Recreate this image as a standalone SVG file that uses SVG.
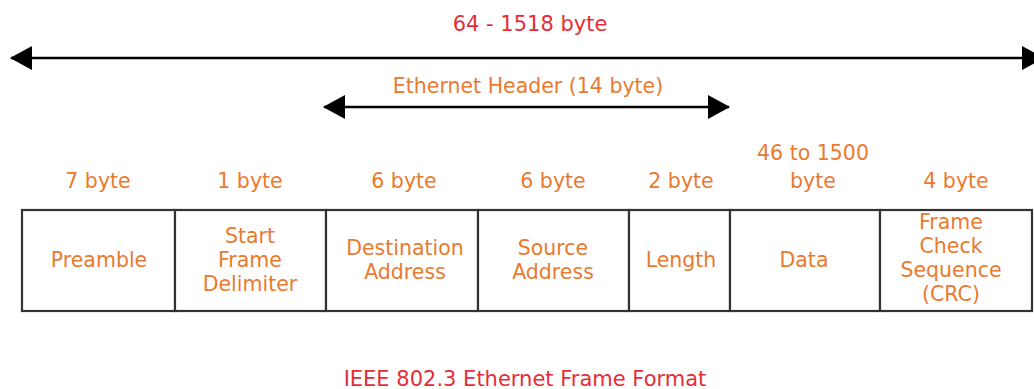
<svg xmlns="http://www.w3.org/2000/svg" width="1034" height="389" viewBox="0 0 1034 389">
<defs>
<style>
.o{fill:#E97A2E;font-family:"DejaVu Sans",Verdana,sans-serif;font-size:20.5px;text-anchor:middle}
.r{fill:#E62D37;font-family:"DejaVu Sans",Verdana,sans-serif;font-size:21px;text-anchor:middle}
.cell{fill:#fff;stroke:#333;stroke-width:2.2}
.arr{stroke:#000;stroke-width:2.6;fill:none;marker-start:url(#ah);marker-end:url(#ah)}
</style>
<marker id="ah" markerUnits="userSpaceOnUse" markerWidth="22" markerHeight="24" viewBox="0 0 22 24" refX="21" refY="12" orient="auto-start-reverse">
<path d="M0,0 L22,12 L0,24 z" fill="#000"/>
</marker>
</defs>
<rect width="1034" height="389" fill="#fff"/>
<g id="connectors">
<line class="arr" x1="11" y1="58" x2="1043" y2="58"/>
<line class="arr" x1="324" y1="107" x2="729" y2="107"/>
</g>
<text class="r" x="530" y="31">64 - 1518 byte</text>
<text class="o" x="528" y="93">Ethernet Header (14 byte)</text>
<g id="preamble">
<rect class="cell" x="22" y="210" width="153" height="101"/>
<text class="o" x="98" y="188">7 byte</text>
<text class="o" x="99" y="267">Preamble</text>
</g>
<g id="sfd">
<rect class="cell" x="175" y="210" width="151" height="101"/>
<text class="o" x="250" y="188">1 byte</text>
<text class="o"><tspan x="250" y="243">Start</tspan><tspan x="250" y="267">Frame</tspan><tspan x="250" y="291">Delimiter</tspan></text>
</g>
<g id="dest">
<rect class="cell" x="326" y="210" width="152" height="101"/>
<text class="o" x="404" y="188">6 byte</text>
<text class="o"><tspan x="405" y="255">Destination</tspan><tspan x="405" y="279">Address</tspan></text>
</g>
<g id="src">
<rect class="cell" x="478" y="210" width="151" height="101"/>
<text class="o" x="553" y="188">6 byte</text>
<text class="o"><tspan x="553" y="255">Source</tspan><tspan x="553" y="279">Address</tspan></text>
</g>
<g id="length">
<rect class="cell" x="629" y="210" width="101" height="101"/>
<text class="o" x="681" y="267">Length</text>
<text class="o" x="681" y="188">2 byte</text>
</g>
<g id="data">
<rect class="cell" x="730" y="210" width="150" height="101"/>
<text class="o"><tspan x="813" y="160">46 to 1500</tspan><tspan x="813" y="188">byte</tspan></text>
<text class="o" x="804" y="267">Data</text>
</g>
<g id="fcs">
<rect class="cell" x="880" y="210" width="152" height="101"/>
<text class="o" x="956" y="188">4 byte</text>
<text class="o"><tspan x="951" y="229">Frame</tspan><tspan x="951" y="253">Check</tspan><tspan x="951" y="277">Sequence</tspan><tspan x="951" y="301">(CRC)</tspan></text>
</g>
<text class="r" x="525" y="386">IEEE 802.3 Ethernet Frame Format</text>
</svg>
